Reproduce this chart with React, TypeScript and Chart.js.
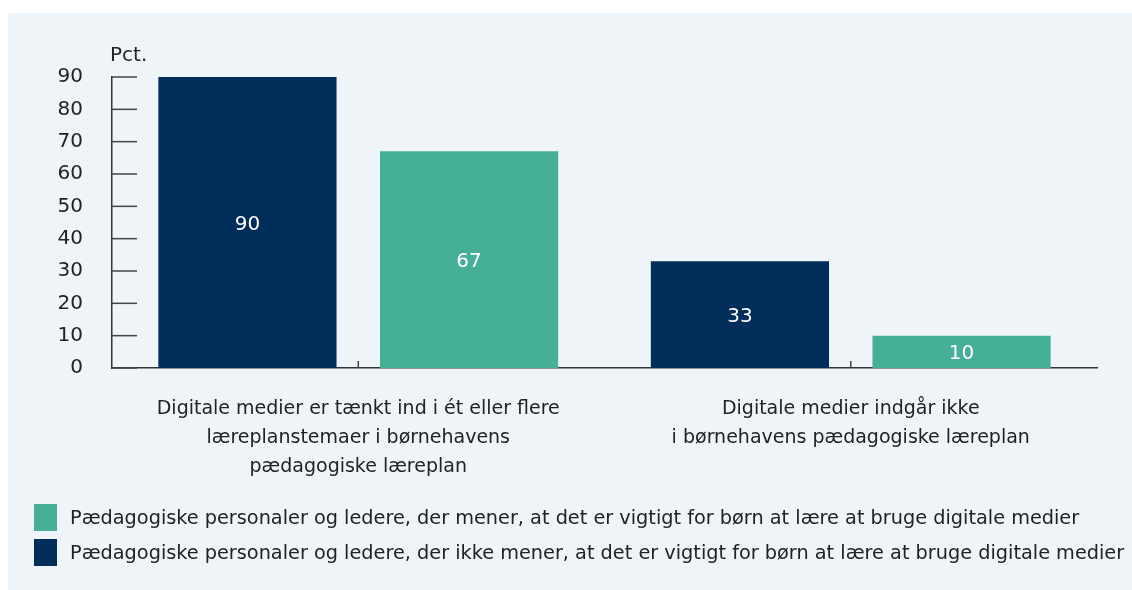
import React, { useEffect, useRef } from "react";
import { Chart, registerables } from "chart.js";

Chart.register(...registerables);

const categories: string[][] = [
  ["Digitale medier er tænkt ind i ét eller flere", "læreplanstemaer i børnehavens", "pædagogiske læreplan"],
  ["Digitale medier indgår ikke", "i børnehavens pædagogiske læreplan"],
];
const seriesNotImportantName =
  "Pædagogiske personaler og ledere, der ikke mener, at det er vigtigt for børn at lære at bruge digitale medier";
const seriesImportantName =
  "Pædagogiske personaler og ledere, der mener, at det er vigtigt for børn at lære at bruge digitale medier";
const notImportantValues = [90, 33];
const importantValues = [67, 10];
const yMin = 0;
const yMax = 90;
const yStep = 10;
const unitLabel = "Pct.";

const NAVY = "#002d59";
const GREEN = "#45b096";
const BG = "#eff4f8";
const TEXT = "#222222";
const AXIS = "#333333";
const FONT = "'DejaVu Sans', sans-serif";

const W = 1124;
const H = 577;

const decorPlugin = {
  id: "decor",
  afterDatasetsDraw(chart: any) {
    const { ctx, chartArea, scales } = chart;
    const x = scales.x;
    const y = scales.y;
    ctx.save();
    // inward y tick marks
    ctx.strokeStyle = "#444444";
    ctx.lineWidth = 1.5;
    y.ticks.forEach((t: any) => {
      const py = y.getPixelForValue(t.value);
      ctx.beginPath();
      ctx.moveTo(chartArea.left, py);
      ctx.lineTo(chartArea.left + 25, py);
      ctx.stroke();
    });
    // inward x tick marks at category centres
    categories.forEach((_, i) => {
      const px = x.getPixelForValue(i);
      ctx.beginPath();
      ctx.moveTo(px, chartArea.bottom);
      ctx.lineTo(px, chartArea.bottom - 7);
      ctx.stroke();
    });
    // value labels
    ctx.fillStyle = "#ffffff";
    ctx.font = `20px ${FONT}`;
    ctx.textAlign = "center";
    ctx.textBaseline = "middle";
    chart.data.datasets.forEach((ds: any, di: number) => {
      const meta = chart.getDatasetMeta(di);
      meta.data.forEach((el: any, i: number) => {
        const p = el.getProps(["x", "y", "base"], true);
        ctx.fillText(String(ds.data[i]), p.x, (p.y + p.base) / 2 + 2);
      });
    });
    // unit label
    ctx.fillStyle = TEXT;
    ctx.textAlign = "left";
    ctx.fillText(unitLabel, chartArea.left - 2, chartArea.top - 21);
    ctx.restore();
  },
};

export default function App() {
  const ref = useRef<HTMLCanvasElement | null>(null);

  useEffect(() => {
    if (!ref.current) return;
    const chart = new Chart(ref.current, {
      type: "bar",
      data: {
        labels: categories,
        datasets: [
          {
            label: seriesNotImportantName,
            data: notImportantValues,
            backgroundColor: NAVY,
            categoryPercentage: 0.9,
            barPercentage: 0.804,
          },
          {
            label: seriesImportantName,
            data: importantValues,
            backgroundColor: GREEN,
            categoryPercentage: 0.9,
            barPercentage: 0.804,
          },
        ],
      },
      options: {
        responsive: false,
        animation: false,
        layout: { padding: { top: 64, right: 35, bottom: 0, left: 0 } },
        plugins: {
          legend: { display: false },
          tooltip: { enabled: false },
        },
        scales: {
          x: {
            grid: { display: false, drawTicks: false },
            border: { display: true, color: AXIS, width: 1.5 },
            ticks: {
              color: TEXT,
              padding: 27,
              font: { family: FONT, size: 19, lineHeight: 29 / 19 },
              maxRotation: 0,
              autoSkip: false,
            },
            afterFit(scale: any) {
              scale.height = 222;
            },
          },
          y: {
            min: yMin,
            max: yMax,
            grid: { display: false, drawTicks: false },
            border: { display: true, color: AXIS, width: 1.5 },
            ticks: {
              stepSize: yStep,
              color: TEXT,
              padding: 29,
              font: { family: FONT, size: 20 },
            },
            afterFit(scale: any) {
              scale.width = 104;
            },
          },
        },
      },
      plugins: [decorPlugin],
    });
    return () => chart.destroy();
  }, []);

  const legendItems = [
    { color: GREEN, text: seriesImportantName },
    { color: NAVY, text: seriesNotImportantName },
  ];

  return (
    <div
      style={{
        position: "absolute",
        left: 8,
        top: 13,
        width: W,
        height: H,
        background: BG,
      }}
    >
      <canvas ref={ref} width={W} height={H} style={{ display: "block" }} />
      {legendItems.map((it, i) => (
        <div
          key={i}
          style={{
            position: "absolute",
            left: 26,
            top: 491 + i * 35,
            height: 27,
            display: "flex",
            alignItems: "center",
            whiteSpace: "nowrap",
            fontFamily: FONT,
            fontSize: 19.3,
            color: TEXT,
          }}
        >
          <span style={{ display: "inline-block", width: 23, height: 27, background: it.color, marginRight: 13 }} />
          <span>{it.text}</span>
        </div>
      ))}
    </div>
  );
}
